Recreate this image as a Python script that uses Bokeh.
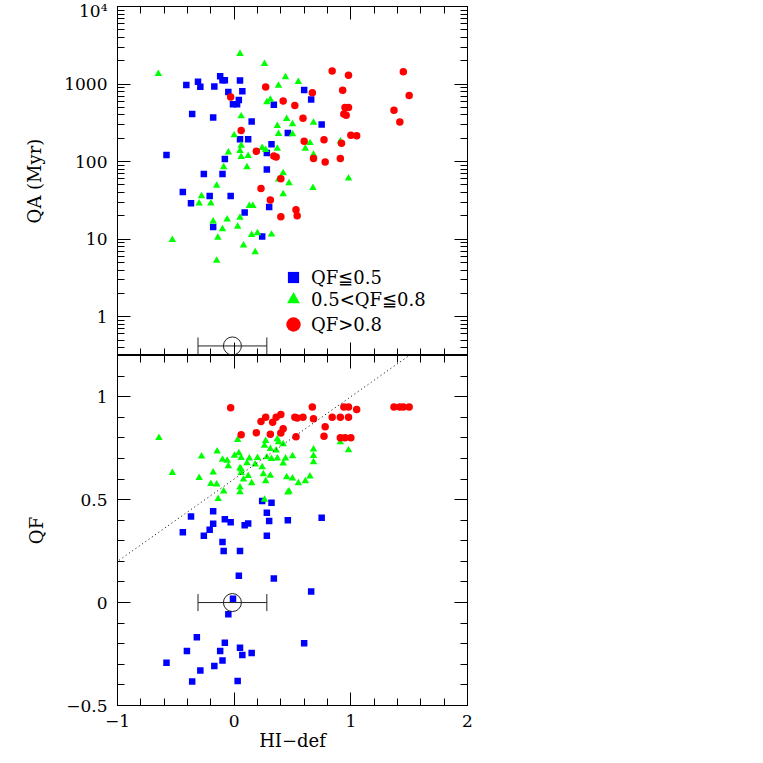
import numpy as np
from bokeh.plotting import figure
from bokeh.models import (ColumnDataSource, LogAxis, LinearAxis, FixedTicker,
                          SingleIntervalTicker, Range1d, Legend, LegendItem,
                          Whisker, TeeHead, Slope, CustomJSTickFormatter)
from bokeh.layouts import column
from bokeh.embed import file_html
from bokeh.resources import INLINE

# ---------------- data ----------------
# top panel: HI-def vs QA (Myr)
blue_top_x = [0.05, -0.12, -0.10, -0.08, -0.31, -0.41, -0.29, -0.17, -0.05, 0.07,
              0.04, -0.01, 0.025, 0.34, 0.60, 0.66, -0.36, -0.18, 0.15, 0.75,
              0.46, 0.05, 0.12, 0.32, 0.28, -0.58, -0.08, -0.26, -0.10, 0.28,
              -0.44, -0.21, -0.03, -0.37, 0.09, 0.30, -0.18, 0.24]
blue_top_y = [1110, 1260, 1120, 1120, 1070, 970, 920, 930, 790, 810,
              625, 550, 550, 540, 840, 630, 410, 370, 330, 300,
              234, 194, 194, 167, 129, 122, 108, 69, 69, 79,
              40.5, 36, 36, 29, 22, 26, 14.4, 10.8]

green_top_x = [0.05, 0.26, -0.65, 0.44, 0.55, 0.38, 0.28, 0.31, 0.06, 0.45,
               0.37, 0.50, 0.68, 0.0, 0.38, 0.50, 0.91, 0.06, 0.24, 0.65,
               0.61, 0.27, 0.37, -0.05, 0.05, 0.68, 0.06, 0.12, -0.09, 0.11,
               0.42, 0.98, 0.38, 0.47, -0.15, 0.675, -0.28, 0.42, -0.30, -0.20,
               0.13, 0.16, -0.18, -0.06, 0.05, -0.10, 0.03, 0.15, 0.20, 0.32,
               -0.14, -0.53, 0.08, 0.18, -0.15]
green_top_y = [2450, 1820, 1350, 1230, 1070, 955, 585, 630, 385, 355,
               290, 304, 318, 219, 228, 226, 183, 161, 150, 174,
               147, 142, 147, 132, 138, 123, 115, 119, 85, 85,
               71, 61, 59, 53, 49, 46, 36, 38, 29, 29,
               27, 27, 17, 18, 19, 13.5, 14.5, 11.4, 12, 11.5,
               10.5, 9.8, 8.3, 6.8, 5.3]

red_top_x = [0.84, 0.98, 1.45, 1.50, 0.27, 0.67, 0.93, -0.03, 0.42, 0.52,
             0.95, 0.98, 0.94, 0.96, 1.37, 1.42, 0.59, 0.06, 1.00, 1.05,
             0.60, 0.77, 0.92, 0.19, 0.34, 0.36, 0.68, 0.78, 0.91, 0.40,
             0.23, 0.31, 0.40, 0.53, 0.54]
red_top_y = [1470, 1300, 1440, 710, 915, 775, 830, 680, 605, 530,
             500, 500, 410, 395, 460, 323, 363, 251, 218, 216,
             183, 192, 173, 136, 118, 115, 110, 99, 110, 60,
             45, 32, 19.5, 24, 20]

# bottom panel: HI-def vs QF
blue_bot_x = [0.24, 0.32, 0.28, -0.37, -0.18, -0.18, -0.08, -0.03, 0.09, 0.12,
              0.30, -0.44, -0.21, -0.26, -0.10, 0.28, 0.46, 0.75, -0.09, 0.05,
              0.04, 0.34, 0.66, -0.01, -0.05, -0.32, -0.08, -0.405, -0.12, 0.05,
              0.07, 0.15, 0.60, -0.58, -0.10, -0.17, -0.29, -0.36, 0.03]
blue_bot_y = [0.493, 0.485, 0.436, 0.418, 0.443, 0.383, 0.405, 0.39, 0.375, 0.384,
              0.396, 0.342, 0.354, 0.325, 0.294, 0.325, 0.40, 0.412, 0.25, 0.25,
              0.13, 0.117, 0.054, 0.019, -0.057, -0.169, -0.195, -0.235, -0.235, -0.22,
              -0.255, -0.245, -0.198, -0.292, -0.282, -0.308, -0.33, -0.383, -0.381]

green_bot_x = [-0.645, -0.53, -0.28, -0.30, -0.146, -0.18, -0.20, -0.15, -0.137, -0.09,
               -0.10, -0.06, -0.05, 0.003, 0.04, 0.03, 0.06, 0.05, 0.06, 0.06,
               0.05, 0.05, 0.08, 0.11, 0.13, 0.12, 0.15, 0.18, 0.20, 0.24,
               0.25, 0.27, 0.26, 0.27, 0.28, 0.31, 0.31, 0.32, 0.37, 0.37,
               0.38, 0.36, 0.42, 0.42, 0.44, 0.45, 0.26, 0.46, 0.68, 0.68,
               0.68, 0.50, 0.50, 0.55, 0.61, 0.65, 0.47, 0.91, 0.98]
green_bot_y = [0.80, 0.63, 0.71, 0.606, 0.735, 0.632, 0.577, 0.574, 0.504, 0.54,
               0.695, 0.69, 0.663, 0.714, 0.726, 0.79, 0.703, 0.653, 0.647, 0.63,
               0.56, 0.536, 0.598, 0.677, 0.70, 0.616, 0.58, 0.671, 0.703, 0.658,
               0.624, 0.59, 0.763, 0.786, 0.706, 0.617, 0.747, 0.698, 0.70, 0.794,
               0.78, 0.739, 0.77, 0.676, 0.70, 0.61, 0.50, 0.535, 0.744, 0.713,
               0.682, 0.711, 0.603, 0.58, 0.59, 0.613, 0.54, 0.78, 0.74]

red_bot_x = [-0.03, 0.06, 0.19, 0.23, 0.27, 0.33, 0.36, 0.40, 0.31, 0.40,
             0.42, 0.52, 0.54, 0.59, 0.53, 0.67, 0.68, 0.78, 0.77, 0.84,
             0.91, 0.98, 0.94, 0.98, 1.05, 0.91, 0.95, 1.00, 1.37, 1.42,
             1.45, 1.50]
red_bot_y = [0.946, 0.815, 0.825, 0.88, 0.90, 0.876, 0.90, 0.914, 0.817, 0.823,
             0.844, 0.90, 0.896, 0.90, 0.805, 0.95, 0.893, 0.854, 0.808, 0.90,
             0.90, 0.90, 0.95, 0.95, 0.938, 0.80, 0.80, 0.80, 0.95, 0.95,
             0.95, 0.95]

# typical error bar
err_x = [-0.015]
err_lo = [-0.31]
err_hi = [0.28]
err_qa = [0.42]
err_qf = [0.0]

# dotted relation QF = 0.6 + 0.4 * HI-def
fit_slope = 0.4
fit_intercept = 0.6

legend_labels = ["QF\u22660.5", "0.5<QF\u22660.8", "QF>0.8"]

x_ticks_major = 1
y_top_majors = [1, 10, 100, 1000, 10000]
y_top_labels = {1: "1", 10: "10", 100: "100", 1000: "1000", 10000: "10\u2074"}

# ---------------- style ----------------
FONT = "DejaVu Serif"
TICK_FS = "17px"
LABEL_FS = "18px"
BLUE, GREEN, RED = "#0000ff", "#00ff00", "#ff0000"
FRAME_W = 350
LEFT = 117


def style_axis(ax, labels=True):
    ax.major_tick_in = 13
    ax.major_tick_out = 0
    ax.minor_tick_in = 7
    ax.minor_tick_out = 0
    ax.axis_line_color = "black"
    ax.major_tick_line_color = "black"
    ax.minor_tick_line_color = "black"
    ax.axis_line_width = 1
    if labels:
        ax.major_label_text_font = FONT
        ax.major_label_text_font_size = TICK_FS
        ax.major_label_text_color = "black"
        ax.major_label_standoff = 10
        ax.axis_label_text_font = FONT
        ax.axis_label_text_font_size = LABEL_FS
        ax.axis_label_text_font_style = "normal"
        ax.axis_label_text_color = "black"
    else:
        ax.formatter = CustomJSTickFormatter(code="return ''")
        ax.major_label_text_font_size = "1px"
        ax.major_label_standoff = 0


minor_log = [m * 10.0 ** k for k in range(-1, 4) for m in range(2, 10) if m * 10.0 ** k > 0.32]

# ---------------- top panel ----------------
top = figure(frame_width=FRAME_W, frame_height=349, min_border_left=LEFT,
             min_border_right=10, min_border_top=6, min_border_bottom=0,
             x_range=Range1d(-1, 2), y_range=Range1d(10 ** -0.5, 1e4),
             y_axis_type="log", output_backend="svg", toolbar_location=None,
             background_fill_color="white", border_fill_color="white")
top.grid.visible = False
top.outline_line_color = "black"

log_ticker = FixedTicker(ticks=y_top_majors, minor_ticks=minor_log)
x_ticker = SingleIntervalTicker(interval=x_ticks_major, num_minor_ticks=5)

la = top.yaxis[0]
la.ticker = log_ticker
style_axis(la)
la.major_label_overrides = y_top_labels
la.axis_label = "QA (Myr)"
la.axis_label_standoff = 16

ba = top.xaxis[0]
ba.ticker = x_ticker
style_axis(ba, labels=False)

ra = LogAxis(ticker=log_ticker)
style_axis(ra, labels=False)
top.add_layout(ra, "right")
aa = LinearAxis(ticker=x_ticker)
style_axis(aa, labels=False)
top.add_layout(aa, "above")

r_b = top.scatter(blue_top_x, blue_top_y, marker="square", size=6.5,
                  fill_color=BLUE, line_color=None)
r_g = top.scatter(green_top_x, green_top_y, marker="triangle", size=7.5,
                  fill_color=GREEN, line_color=None)
r_r = top.scatter(red_top_x, red_top_y, marker="circle", size=7.5,
                  fill_color=RED, line_color=None)

src_top_err = ColumnDataSource(dict(x=err_x, y=err_qa, lo=err_lo, hi=err_hi))
top.add_layout(Whisker(source=src_top_err, base="y", lower="lo", upper="hi",
                       dimension="width", line_color="#222222", line_width=1,
                       lower_head=TeeHead(size=17, line_color="#222222"),
                       upper_head=TeeHead(size=17, line_color="#222222")))
top.scatter("x", "y", source=src_top_err, marker="circle", size=18,
            fill_color=None, line_color="#222222", line_width=1)

# legends (one per entry so that glyph sizes differ like the reference)
leg_specs = [(r_b, legend_labels[0], 28, 64),
             (r_g, legend_labels[1], 32, 40),
             (r_r, legend_labels[2], 36, 13)]
for rend, lab, gh, vy in leg_specs:
    lg = Legend(items=[LegendItem(label=lab, renderers=[rend])],
                location=(158, vy), glyph_width=36, glyph_height=gh,
                label_standoff=0, padding=0, margin=0, spacing=0,
                border_line_alpha=0, background_fill_alpha=0,
                label_text_font=FONT, label_text_font_size=LABEL_FS,
                label_text_color="black")
    top.add_layout(lg)

# ---------------- bottom panel ----------------
bot = figure(frame_width=FRAME_W, frame_height=350, min_border_left=LEFT,
             min_border_right=10, min_border_top=0, min_border_bottom=0,
             x_range=Range1d(-1, 2), y_range=Range1d(-0.5, 1.2),
             output_backend="svg", toolbar_location=None,
             background_fill_color="white", border_fill_color="white")
bot.grid.visible = False
bot.outline_line_color = "black"

y_ticker = SingleIntervalTicker(interval=0.5, num_minor_ticks=5)
bla = bot.yaxis[0]
bla.ticker = y_ticker
style_axis(bla)
bla.major_label_overrides = {-0.5: "\u22120.5"}
bla.axis_label = "QF"
bla.axis_label_standoff = 16

bba = bot.xaxis[0]
bba.ticker = x_ticker
style_axis(bba)
bba.major_label_standoff = 9
bba.major_label_overrides = {-1: "\u22121"}
bba.axis_label = "HI\u2212def"
bba.axis_label_standoff = 0

bra = LinearAxis(ticker=y_ticker)
style_axis(bra, labels=False)
bot.add_layout(bra, "right")
baa = LinearAxis(ticker=x_ticker)
style_axis(baa, labels=False)
bot.add_layout(baa, "above")

bot.add_layout(Slope(gradient=fit_slope, y_intercept=fit_intercept,
                     line_color="black", line_width=1, line_dash="1 3"))

bot.scatter(blue_bot_x, blue_bot_y, marker="square", size=6.5,
            fill_color=BLUE, line_color=None)
bot.scatter(green_bot_x, green_bot_y, marker="triangle", size=7.5,
            fill_color=GREEN, line_color=None)
bot.scatter(red_bot_x, red_bot_y, marker="circle", size=7.5,
            fill_color=RED, line_color=None)

src_bot_err = ColumnDataSource(dict(x=err_x, y=err_qf, lo=err_lo, hi=err_hi))
bot.add_layout(Whisker(source=src_bot_err, base="y", lower="lo", upper="hi",
                       dimension="width", line_color="#222222", line_width=1,
                       lower_head=TeeHead(size=17, line_color="#222222"),
                       upper_head=TeeHead(size=17, line_color="#222222")))
bot.scatter("x", "y", source=src_bot_err, marker="circle", size=18,
            fill_color=None, line_color="#222222", line_width=1)

layout = column(top, bot, spacing=0)
open("out.html", "w").write(file_html(layout, INLINE))
